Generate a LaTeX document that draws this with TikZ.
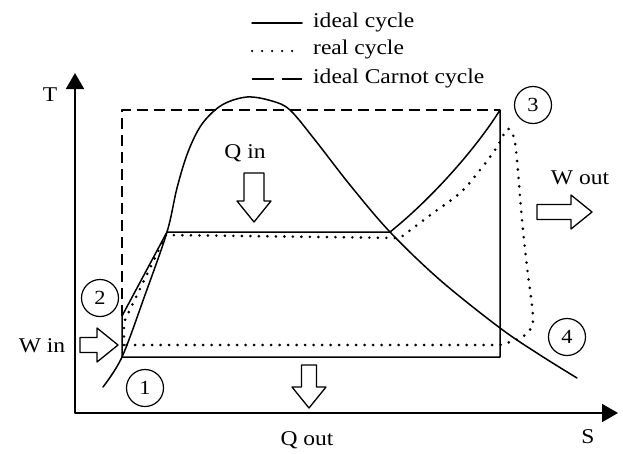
\documentclass[tikz,border=0pt]{standalone}
\usepackage{fontspec}
\setmainfont{Liberation Serif}[FakeStretch=1.12]
\usetikzlibrary{arrows.meta}

\tikzset{
	pics/fatarrow/.style 2 args={code={
		\draw[line width=1.3pt, fill=white] (0,-#2) -- ({#1-21},-#2) -- ({#1-21},-17) -- (#1,0)
			-- ({#1-21},17) -- ({#1-21},#2) -- (0,#2) -- cycle;
	}}
}

\begin{document}
\begin{tikzpicture}[x=1pt, y=-1pt, line cap=round, line join=round,
	>={Triangle[length=16pt, width=18pt]},
	lbl/.style={font=\fontsize{21}{24}\selectfont, inner sep=0pt},
	num/.style={circle, draw, line width=1.2pt, minimum size=37pt, inner sep=0pt, font=\fontsize{20}{22}\selectfont},
	ideal/.style={line width=1.5pt},
	real/.style={line width=2.9pt, dash pattern=on 0pt off 8.5pt},
	carnot/.style={line width=1.5pt, line cap=butt, dash pattern=on 11pt off 6pt}]
	
	\useasboundingbox (0,0) rectangle (623,453);
	
	% Define axes
	\coordinate (O) at (75,413);
	\coordinate (Ttip) at (75,73);
	\coordinate (Stip) at (618,413);
	
	% Define cycle points
	\coordinate (p1) at (122,357);
	\coordinate (p2) at (122,316);
	\coordinate (f) at (167,232);
	\coordinate (g) at (390,232);
	\coordinate (p3) at (500,110);
	\coordinate (p4) at (500,357);
	\coordinate (c2) at (122,110);
	
	% Real cycle points
	\coordinate (r1) at (124,345);
	\coordinate (r2) at (124,322);
	\coordinate (rf) at (166,235);
	\coordinate (rg) at (400,238);
	\coordinate (r4) at (500,345);
	
	% Draw axes
	\draw[line width=1.8pt, line cap=butt, <->] (Ttip) -- (O) -- (Stip);
	\node[lbl] (T) at (50,95) {T};
	\node[lbl] (S) at (588,437) {S};
	
	% Draw saturation dome
	\draw[ideal] plot[smooth, tension=0.55] coordinates {(103,387) (122,357) (145,295) (167,232)
		(177,188) (188,152) (202,124) (222,105) (247,97) (272,101) (290,110) (315,140) (350,185)
		(390,232) (440,280) (500,328) (540,355) (577,378)};
	
	% Draw ideal Carnot cycle
	\draw[carnot] (p2) -- (c2) -- (p3);
	
	% Draw ideal cycle
	\draw[ideal] (p1) -- (p2) -- (f) -- (g) .. controls (430,200) and (475,150) .. (p3) -- (p4) -- cycle;
	
	% Draw real cycle
	\draw[real] (r1) -- (r2) -- (rf) -- (rg) -- plot[smooth, tension=0.6] coordinates {(rg) (433,213)
		(460,193) (480,170) (497,147) (505,132) (509,129) (514,138) (517,160) (522,220) (527,267)
		(533,318) (528,332) (518,339) (r4)} -- (r1);
	
	% State labels
	\node[num] (n1) at (145,388) {1};
	\node[num] (n2) at (100,298) {2};
	\node[num] (n3) at (533,105) {3};
	\node[num] (n4) at (567,337) {4};
	
	% Heat and work arrows
	\pic at (80,345) {fatarrow={38}{7.5}};
	\pic at (537,212) {fatarrow={55}{7.5}};
	\pic[rotate=-90] at (254,173) {fatarrow={49}{10}};
	\pic[rotate=-90] at (309,365) {fatarrow={43}{7.5}};
	\node[lbl] (win) at (42,346) {W in};
	\node[lbl] (wout) at (580,178) {W out};
	\node[lbl] (qin) at (245,153) {Q in};
	\node[lbl] (qout) at (307,440) {Q out};
	
	% Legend
	\coordinate (La) at (252,23);
	\coordinate (Lb) at (302,23);
	\coordinate (Ma) at (252,51);
	\coordinate (Mb) at (302,51);
	\coordinate (Na) at (252,79);
	\coordinate (Nb) at (302,79);
	\draw[ideal] (La) -- (Lb);
	\draw[line width=2.5pt, dash pattern=on 0pt off 10pt] (Ma) -- (Mb);
	\draw[line width=1.7pt, line cap=butt, dash pattern=on 22pt off 8pt] (Na) -- (Nb);
	\node[lbl, anchor=west] (leg1) at (313,22) {ideal cycle};
	\node[lbl, anchor=west] (leg2) at (313,49) {real cycle};
	\node[lbl, anchor=west] (leg3) at (313,78) {ideal Carnot cycle};
	
\end{tikzpicture}
\end{document}
